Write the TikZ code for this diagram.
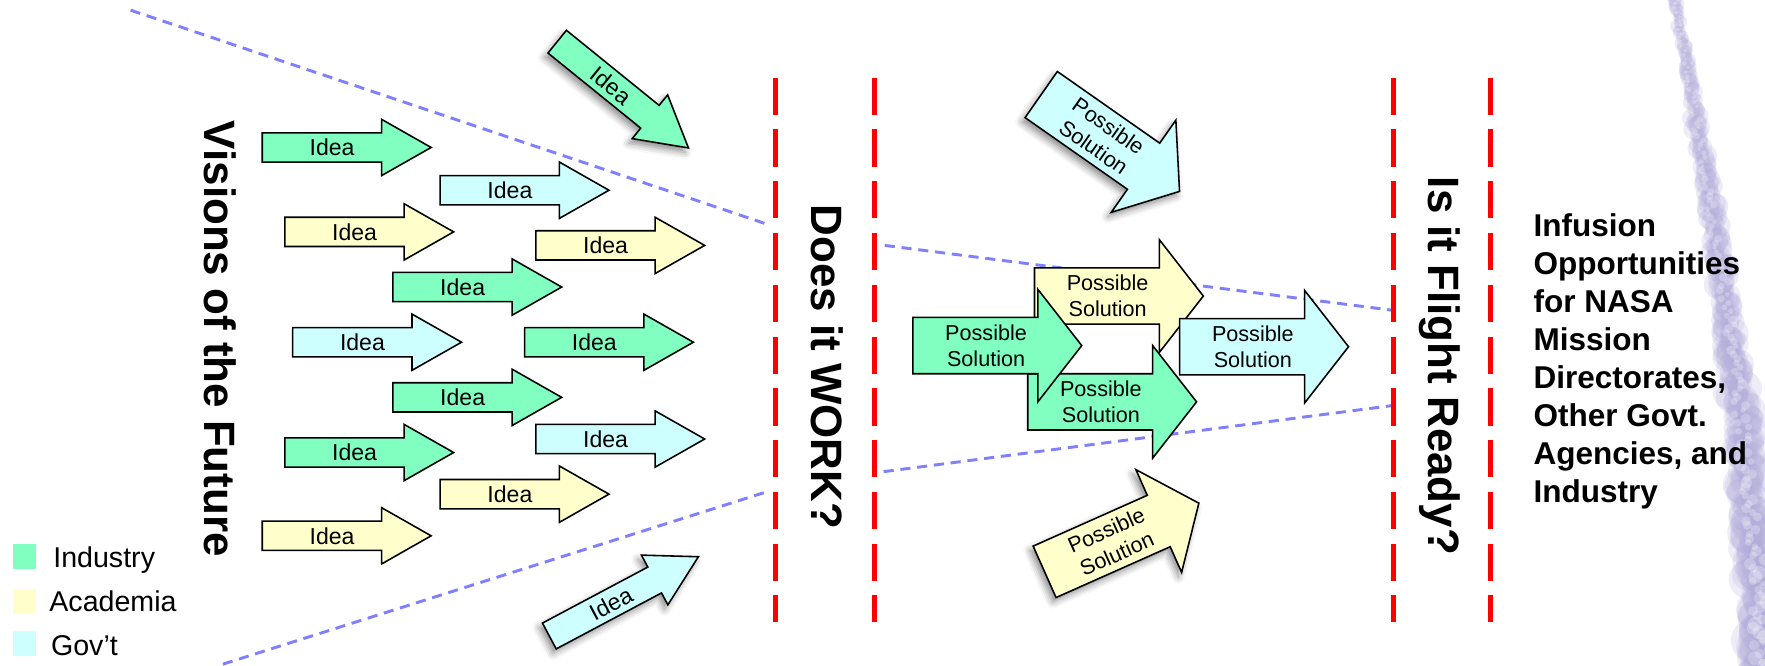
\documentclass[tikz,border=0pt]{standalone}
\usepackage{fontspec}
\setmainfont{Liberation Sans}
\usetikzlibrary{shadows.blur}

\definecolor{indgreen}{RGB}{128,255,192}
\definecolor{acayellow}{RGB}{255,255,204}
\definecolor{govblue}{RGB}{206,255,255}
\definecolor{dashblue}{RGB}{128,128,255}
\definecolor{trail}{RGB}{176,170,216}

\tikzset{
  arrowline/.style={draw=black, line width=0.7pt, line join=miter},
  ideatext/.style={font=\fontsize{10.25}{12}\selectfont, inner sep=0pt},
  soltext/.style={font=\fontsize{9.6}{11.5}\selectfont, align=center, inner sep=0pt},
  redline/.style={draw=red, line width=2pt, dash pattern=on 16.5pt off 6.5pt},
  blueline/.style={draw=dashblue, line width=1.3pt, dash pattern=on 4.5pt off 3pt},
  titletext/.style={font=\fontsize{19.5}{22}\selectfont\bfseries, rotate=-90, inner sep=0pt},
  legtext/.style={font=\fontsize{12.7}{15}\selectfont, anchor=base west, inner sep=0pt},
  legbox/.style={draw=none, minimum width=10.2pt, minimum height=11pt, inner sep=0pt},
  rshadow/.style={blur shadow={shadow xshift=-1.5pt, shadow yshift=-2pt, shadow blur radius=3pt, shadow opacity=45}},
}

% [options]{name}{tail position}{angle}{fill colour}
\newcommand{\ideaarrow}[5][]{%
  \begin{scope}[shift={#3}, rotate=#4]
    \path[arrowline, fill=#5, #1] (0,-13) -- (106,-13) -- (106,-25) -- (150,0)
         -- (106,25) -- (106,13) -- (0,13) -- cycle;
    \node[ideatext, rotate=#4] (#2) at (62,0) {Idea};
  \end{scope}}

\newcommand{\solarrow}[5][]{%
  \begin{scope}[shift={#3}, rotate=#4]
    \path[arrowline, fill=#5, #1] (0,-25) -- (111,-25) -- (111,-50) -- (150,0)
         -- (111,50) -- (111,25) -- (0,25) -- cycle;
    \node[soltext, rotate=#4] (#2) at (65,0) {Possible\\Solution};
  \end{scope}}

\begin{document}
\begin{tikzpicture}[x=0.5pt, y=-0.5pt]
\useasboundingbox (0,0) rectangle (1568,591);

% contrail on the right
\begin{scope}
  \clip (0,0) rectangle (1568,591);
  \pgfmathsetseed{11}
  \foreach \i in {0,...,320} {
    \pgfmathsetmacro\yy{-12+1.95*\i}
    \pgfmathsetmacro\xx{1487+0.2*\yy-0.0001*\yy*\yy+(2+0.015*\yy)*rand}
    \pgfmathsetmacro\rr{(7+0.024*\yy)*(0.55+0.45*rnd)}
    \fill[trail, opacity=0.22] (\xx,\yy) circle[radius=\rr];
  }
  \foreach \i in {0,...,160} {
    \pgfmathsetmacro\yy{-12+3.8*\i}
    \pgfmathsetmacro\xx{1487+0.2*\yy-0.0001*\yy*\yy+(2+0.012*\yy)*rand}
    \pgfmathsetmacro\rr{(2+0.008*\yy)*(0.5+0.5*rnd)}
    \fill[white, opacity=0.25] (\xx,\yy) circle[radius=\rr];
  }
\end{scope}

% blue dashed guide lines
\coordinate (a1) at (116,9);   \coordinate (a2) at (684,200);
\coordinate (b1) at (786,218); \coordinate (b2) at (1240,276);
\coordinate (c1) at (198,590); \coordinate (c2) at (684,436);
\coordinate (d1) at (785,419); \coordinate (d2) at (1239,360);
\draw[blueline] (a1) -- (a2);
\draw[blueline] (b1) -- (b2);
\draw[blueline] (c1) -- (c2);
\draw[blueline] (d1) -- (d2);

% red dashed gates
\foreach \n/\x in {r1/689, r2/777, r3/1238, r4/1324} {
  \coordinate (\n t) at (\x,69);
  \coordinate (\n b) at (\x,553);
  \draw[redline] (\n t) -- (\n b);
}

% Idea arrows
\ideaarrow{i1}{(233,131)}{0}{indgreen}
\ideaarrow{i2}{(391,169)}{0}{govblue}
\ideaarrow{i3}{(253,206)}{0}{acayellow}
\ideaarrow{i4}{(476,218)}{0}{acayellow}
\ideaarrow{i5}{(349,255)}{0}{indgreen}
\ideaarrow{i6}{(260,304)}{0}{govblue}
\ideaarrow{i7}{(466,304)}{0}{indgreen}
\ideaarrow{i8}{(349,353)}{0}{indgreen}
\ideaarrow{i9}{(476,390)}{0}{govblue}
\ideaarrow{i10}{(253,402)}{0}{indgreen}
\ideaarrow{i11}{(391,439)}{0}{acayellow}
\ideaarrow{i12}{(233,476)}{0}{acayellow}
\ideaarrow[rshadow]{i13}{(495,37)}{-39}{indgreen}
\ideaarrow[rshadow]{i14}{(488,565)}{28}{govblue}

% Possible solution arrows
\solarrow{s2}{(919,263)}{0}{acayellow}
\solarrow{s3}{(913,357)}{0}{indgreen}
\solarrow{s1}{(811,307)}{0}{indgreen}
\solarrow{s4}{(1048,308)}{0}{govblue}
\solarrow[rshadow]{s5}{(925,84)}{-35}{govblue}
\solarrow[rshadow]{s6}{(928,508)}{24}{acayellow}

% titles
\node[titletext] (visions) at (196,301) {Visions of the Future};
\node[titletext] (work) at (735,326) {Does it WORK?};
\node[titletext] (flight) at (1279,325) {Is it Flight Ready?};

\node[font=\fontsize{14}{16.9}\selectfont\bfseries, align=left, anchor=north west, inner sep=0pt]
  (infusion) at (1362,189) {Infusion\\Opportunities\\for NASA\\Mission\\Directorates,\\Other Govt.\\Agencies, and\\Industry};

% legend
\node[legbox, fill=indgreen] (lbi) at (21.5,494.4) {};
\node[legbox, fill=acayellow] (lba) at (22,534.2) {};
\node[legbox, fill=govblue] (lbg) at (21.5,571.6) {};
\node[legtext] (lti) at (47,504) {Industry};
\node[legtext] (lta) at (43.5,543.4) {Academia};
\node[legtext] (ltg) at (45,582.5) {Gov’t};
\end{tikzpicture}
\end{document}
